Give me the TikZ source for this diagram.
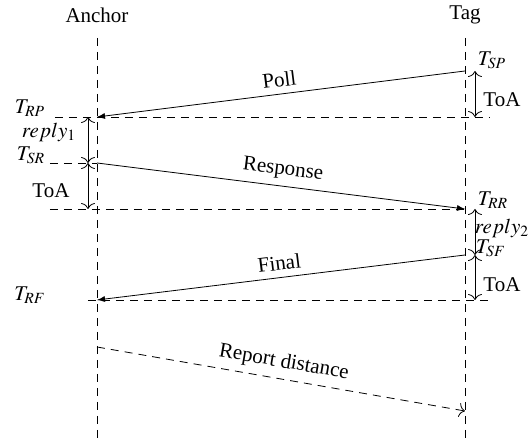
\documentclass[tikz,border=0pt]{standalone}
\usepackage{mathptmx}
\usepackage{fontspec}
\setmainfont{Liberation Serif}
\usetikzlibrary{arrows.meta}

\begin{document}
\begin{tikzpicture}[x=0.5pt, y=-0.5pt, font=\fontsize{10.5}{12}\selectfont,
  >={To[length=3pt, width=7pt]},
  dashes/.style={dash pattern=on 4pt off 3pt}]

  \useasboundingbox (0, 0) rectangle (532, 442);

  \node (a) at (97, 15) {Anchor};
  \node (b) at (465, 15) {Tag};
  \coordinate (a1) at (97, 38);
  \coordinate (a2) at (97, 442);
  \coordinate (b1) at (465, 38);
  \coordinate (b2) at (465, 442);

  \coordinate (sp) at (465, 71);
  \coordinate (rp) at (97, 117);
  \coordinate (sr) at (97, 163);
  \coordinate (rr) at (465, 209);
  \coordinate (sf) at (465, 255);
  \coordinate (rf) at (97, 300);
  \coordinate (d1) at (97, 347);
  \coordinate (d2) at (465, 411);

  \coordinate (h1) at (55, 117);
  \coordinate (h2) at (490, 117);
  \coordinate (h3) at (50, 163);
  \coordinate (h4) at (50, 209);
  \coordinate (h5) at (88, 300);
  \coordinate (h6) at (488, 300);

  \coordinate (l1) at (88, 117);
  \coordinate (l2) at (88, 163);
  \coordinate (l3) at (88, 209);
  \coordinate (r1) at (475, 71);
  \coordinate (r2) at (475, 117);
  \coordinate (r3) at (475, 209);
  \coordinate (r4) at (475, 255);
  \coordinate (r5) at (475, 300);

  \node (c) at (492, 60) {$T_{SP}$};
  \node (d) at (30, 108) {$T_{RP}$};
  \node (e) at (49, 132) {$reply_1$};
  \node (f) at (31, 155) {$T_{SR}$};
  \node (g) at (51, 191) {ToA};
  \node (h) at (502, 100) {ToA};
  \node (i) at (493, 200) {$T_{RR}$};
  \node (j) at (502, 228) {$reply_2$};
  \node (k) at (491, 248) {$T_{SF}$};
  \node (l) at (502, 285) {ToA};
  \node (m) at (30, 295) {$T_{RF}$};

  \draw [dashes] (a1) -- (a2);
  \draw [dashes] (b1) -- (b2);
  \draw [dashes] (h1) -- (h2);
  \draw [dashes] (h3) -- (sr);
  \draw [dashes] (h4) -- (rr);
  \draw [dashes] (h5) -- (h6);

  \draw [-latex] (sp) to node [sloped, above] {Poll} (rp);
  \draw [-latex] (sr) to node [sloped, above] {Response} (rr);
  \draw [-latex] (sf) to node [sloped, above] {Final} (rf);
  \draw [->, dashes] (d1) to node [sloped, above] {Report distance} (d2);

  \draw [<->] (l1) -- (l2);
  \draw [<->] (l2) -- (l3);
  \draw [<->] (r1) -- (r2);
  \draw [<->] (r3) -- (r4);
  \draw [<->] (r4) -- (r5);

\end{tikzpicture}
\end{document}
